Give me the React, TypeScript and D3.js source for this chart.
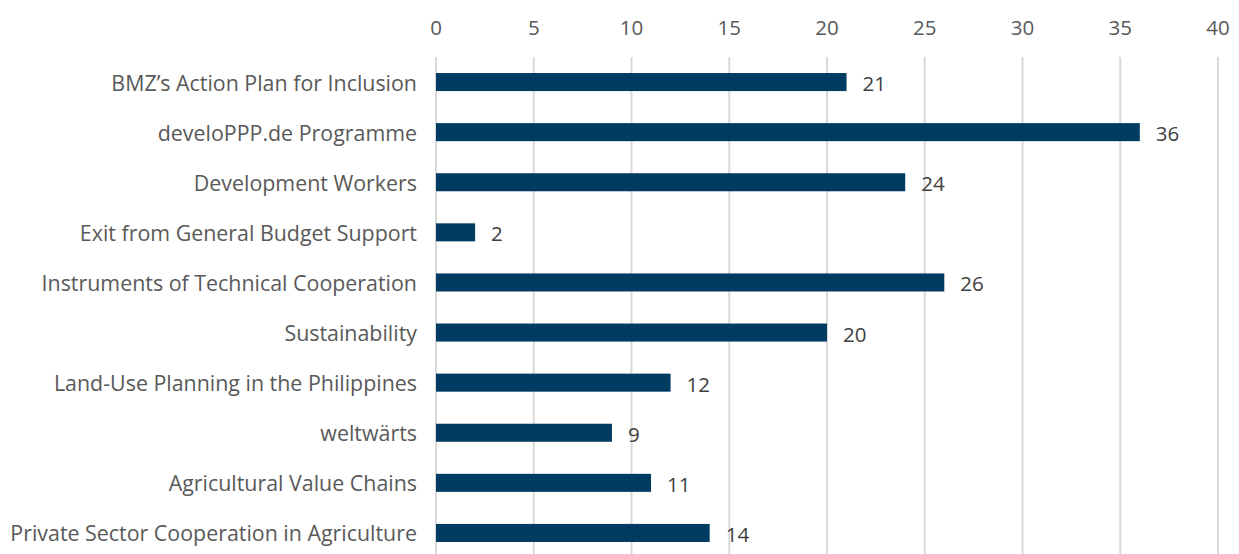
import React from "react";
import * as d3 from "d3";

const categories = [
  "BMZ’s Action Plan for Inclusion",
  "develoPPP.de Programme",
  "Development Workers",
  "Exit from General Budget Support",
  "Instruments of Technical Cooperation",
  "Sustainability",
  "Land-Use Planning in the Philippines",
  "weltwärts",
  "Agricultural Value Chains",
  "Private Sector Cooperation in Agriculture",
];
const values = [21, 36, 24, 2, 26, 20, 12, 9, 11, 14];
const ticks = [0, 5, 10, 15, 20, 25, 30, 35, 40];

const W = 1239;
const H = 554;

export default function App() {
  const x = d3.scaleLinear().domain([0, 40]).range([436, 1218]);
  const y = d3.scaleBand().domain(categories).range([57, 558]).paddingInner(0.64).paddingOuter(0.32);
  const font = "'Open Sans', sans-serif";
  return (
    <svg width={W} height={H} style={{ position: "absolute", left: 0, top: 0 }}>
      <rect width={W} height={H} fill="#fff" />
      {ticks.map((t) => (
        <g key={t}>
          <line x1={x(t)} x2={x(t)} y1={57} y2={H} stroke="#d9d9d9" strokeWidth={2} />
          <text x={x(t)} y={27} textAnchor="middle" dominantBaseline="central" fontFamily={font} fontSize={20.5} fill="#595959">
            {t}
          </text>
        </g>
      ))}
      {categories.map((c, i) => {
        const yy = y(c)!;
        const bh = y.bandwidth();
        return (
          <g key={c}>
            <rect x={x(0)} y={yy} width={x(values[i]) - x(0)} height={bh} fill="#003b62" />
            <text x={417} y={yy + bh / 2} textAnchor="end" dominantBaseline="central" fontFamily={font} fontSize={21.4} fill="#595959">
              {c}
            </text>
            <text x={x(values[i]) + 16} y={yy + bh / 2 + 1} dominantBaseline="central" fontFamily={font} fontSize={20.5} fill="#404040">
              {values[i]}
            </text>
          </g>
        );
      })}
    </svg>
  );
}
